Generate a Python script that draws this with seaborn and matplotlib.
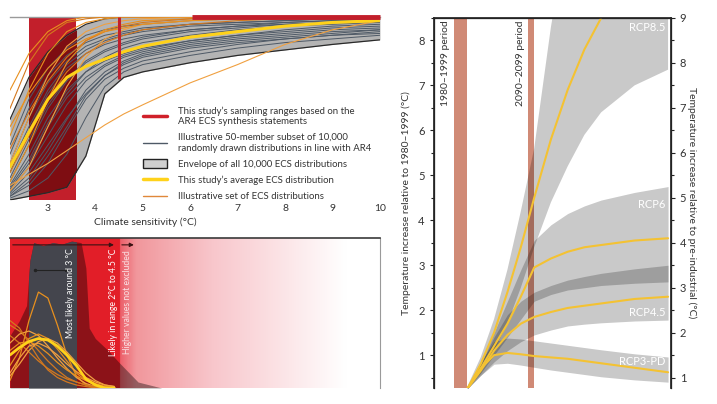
import numpy as np
import matplotlib
matplotlib.use("Agg")
import matplotlib.pyplot as plt
from matplotlib.patches import Rectangle, Patch
from matplotlib.lines import Line2D
from matplotlib.colors import LinearSegmentedColormap
import seaborn as sns

sns.set_theme(style="white")
plt.rcParams["font.family"] = ["Lato", "DejaVu Sans"]

# ---- panel a: cumulative ECS distributions ----
ecs_x = [2.2, 2.6, 3.0, 3.4, 3.8, 4.2, 4.6, 5.0, 6.0, 7.0, 8.0, 9.0, 10.0]
env_hi = [0.44, 0.67, 0.81, 0.90, 0.96, 0.99, 1.0, 1.0, 1.0, 1.0, 1.0, 1.0, 1.0]
env_lo = [0.0, 0.02, 0.04, 0.07, 0.24, 0.58, 0.67, 0.70, 0.75, 0.79, 0.82, 0.85, 0.875]
avg_cdf = [0.18, 0.37, 0.55, 0.67, 0.73, 0.77, 0.81, 0.84, 0.89, 0.92, 0.95, 0.97, 0.98]
gray_cdfs = [
    [0.02, 0.08, 0.20, 0.38, 0.55, 0.66, 0.72, 0.76, 0.81, 0.85, 0.88, 0.90, 0.92],
    [0.05, 0.18, 0.35, 0.52, 0.65, 0.73, 0.78, 0.81, 0.86, 0.89, 0.91, 0.93, 0.94],
    [0.10, 0.30, 0.50, 0.65, 0.75, 0.81, 0.85, 0.88, 0.92, 0.94, 0.96, 0.97, 0.98],
    [0.20, 0.45, 0.64, 0.76, 0.84, 0.88, 0.91, 0.93, 0.96, 0.97, 0.98, 0.99, 0.99],
    [0.30, 0.55, 0.72, 0.83, 0.90, 0.93, 0.95, 0.96, 0.98, 0.99, 0.99, 1.0, 1.0],
    [0.04, 0.15, 0.30, 0.45, 0.58, 0.68, 0.74, 0.78, 0.83, 0.86, 0.88, 0.90, 0.91],
    [0.08, 0.25, 0.45, 0.60, 0.70, 0.76, 0.80, 0.83, 0.87, 0.90, 0.92, 0.94, 0.95],
    [0.15, 0.38, 0.58, 0.72, 0.80, 0.85, 0.88, 0.90, 0.93, 0.95, 0.96, 0.97, 0.98],
    [0.01, 0.05, 0.12, 0.25, 0.45, 0.62, 0.70, 0.74, 0.79, 0.83, 0.86, 0.88, 0.90],
    [0.25, 0.50, 0.68, 0.79, 0.86, 0.90, 0.92, 0.94, 0.96, 0.97, 0.98, 0.99, 0.99],
    [0.12, 0.33, 0.52, 0.66, 0.76, 0.82, 0.86, 0.89, 0.93, 0.95, 0.97, 0.98, 0.99],
    [0.06, 0.20, 0.40, 0.56, 0.67, 0.74, 0.79, 0.82, 0.87, 0.90, 0.93, 0.95, 0.96],
    [0.03, 0.12, 0.27, 0.44, 0.60, 0.70, 0.76, 0.80, 0.85, 0.88, 0.90, 0.92, 0.93],
    [0.18, 0.40, 0.60, 0.74, 0.82, 0.87, 0.90, 0.92, 0.95, 0.96, 0.97, 0.98, 0.99],
    [0.07, 0.22, 0.42, 0.58, 0.70, 0.78, 0.83, 0.86, 0.90, 0.93, 0.95, 0.96, 0.97],
    [0.02, 0.10, 0.24, 0.40, 0.57, 0.68, 0.75, 0.79, 0.84, 0.87, 0.89, 0.91, 0.93],
]
orange_cdfs = [
    [0.35, 0.60, 0.80, 0.92, 0.97, 0.99, 1.0, 1.0, 1.0, 1.0, 1.0, 1.0, 1.0],
    [0.50, 0.75, 0.90, 0.97, 0.99, 1.0, 1.0, 1.0, 1.0, 1.0, 1.0, 1.0, 1.0],
    [0.20, 0.45, 0.68, 0.84, 0.92, 0.96, 0.98, 0.99, 1.0, 1.0, 1.0, 1.0, 1.0],
    [0.10, 0.30, 0.55, 0.75, 0.87, 0.93, 0.96, 0.98, 0.99, 1.0, 1.0, 1.0, 1.0],
    [0.28, 0.48, 0.65, 0.78, 0.87, 0.92, 0.95, 0.97, 0.99, 1.0, 1.0, 1.0, 1.0],
    [0.05, 0.18, 0.40, 0.62, 0.78, 0.88, 0.93, 0.96, 0.98, 0.99, 1.0, 1.0, 1.0],
    [0.40, 0.58, 0.72, 0.82, 0.88, 0.92, 0.94, 0.96, 0.98, 0.99, 0.99, 1.0, 1.0],
    [0.15, 0.35, 0.55, 0.70, 0.80, 0.86, 0.90, 0.93, 0.96, 0.98, 0.99, 0.99, 1.0],
    [0.08, 0.14, 0.20, 0.27, 0.34, 0.41, 0.47, 0.52, 0.64, 0.74, 0.85, 0.93, 0.98],
    [0.60, 0.80, 0.92, 0.98, 1.0, 1.0, 1.0, 1.0, 1.0, 1.0, 1.0, 1.0, 1.0],
]
ecs_ticks = [3, 4, 5, 6, 7, 8, 9, 10]
legend_labels = [
    "This study\u2019s sampling ranges based on the\nAR4 ECS synthesis statements",
    "Illustrative 50-member subset of 10,000\nrandomly drawn distributions in line with AR4",
    "Envelope of all 10,000 ECS distributions",
    "This study\u2019s average ECS distribution",
    "Illustrative set of ECS distributions",
]

# ---- panel b: probability densities ----
pdf_x = [2.2, 2.4, 2.6, 2.8, 3.0, 3.2, 3.4, 3.6, 3.8, 4.0, 4.2, 4.4]
orange_pdfs = [
    [0.05, 0.20, 0.45, 0.64, 0.60, 0.42, 0.22, 0.08, 0.02, 0.0, 0.0, 0.0],
    [0.42, 0.38, 0.32, 0.25, 0.18, 0.12, 0.07, 0.04, 0.02, 0.01, 0.0, 0.0],
    [0.30, 0.36, 0.38, 0.35, 0.28, 0.20, 0.13, 0.07, 0.03, 0.01, 0.0, 0.0],
    [0.15, 0.25, 0.33, 0.36, 0.33, 0.26, 0.18, 0.10, 0.05, 0.02, 0.01, 0.0],
    [0.35, 0.30, 0.24, 0.18, 0.13, 0.09, 0.06, 0.04, 0.02, 0.01, 0.0, 0.0],
    [0.08, 0.16, 0.25, 0.31, 0.33, 0.30, 0.24, 0.17, 0.10, 0.05, 0.02, 0.01],
    [0.25, 0.30, 0.31, 0.28, 0.23, 0.17, 0.12, 0.08, 0.05, 0.03, 0.01, 0.0],
    [0.45, 0.40, 0.30, 0.20, 0.12, 0.07, 0.04, 0.02, 0.01, 0.0, 0.0, 0.0],
    [0.10, 0.20, 0.28, 0.30, 0.27, 0.22, 0.16, 0.11, 0.07, 0.04, 0.02, 0.01],
]
avg_pdf = [0.22, 0.27, 0.31, 0.33, 0.32, 0.28, 0.22, 0.15, 0.06, 0.02, 0.0, 0.0]
pdf_env_x = [2.2, 2.4, 2.55, 2.62, 2.7, 2.9, 3.1, 3.3, 3.5, 3.7, 3.8, 3.87, 4.0, 4.27, 4.5, 4.9, 5.4]
pdf_env_y = [0.35, 0.45, 0.55, 0.85, 0.97, 0.95, 0.97, 0.96, 0.98, 0.97, 0.8, 0.4, 0.33, 0.25, 0.17, 0.04, 0.0]

# ---- panel c: temperature projections ----
years = [2000, 2020, 2040, 2060, 2080, 2100, 2125, 2150, 2175, 2200, 2250, 2300]
rcp85_mid = [0.25, 0.8, 1.5, 2.4, 3.4, 4.5, 5.8, 6.9, 7.8, 8.5, 9.6, 10.2]
rcp85_lo = [0.25, 0.6, 1.1, 1.7, 2.5, 3.4, 4.4, 5.2, 5.9, 6.4, 7.0, 7.35]
rcp85_hi = [0.3, 0.95, 1.8, 2.9, 4.2, 5.6, 8.3, 10.5, 12.0, 12.0, 12.0, 12.0]
rcp6_mid = [0.25, 0.7, 1.2, 1.7, 2.3, 2.95, 3.15, 3.3, 3.4, 3.45, 3.55, 3.6]
rcp6_lo = [0.25, 0.6, 1.0, 1.4, 1.8, 2.2, 2.35, 2.45, 2.5, 2.55, 2.6, 2.63]
rcp6_hi = [0.3, 0.85, 1.5, 2.2, 2.9, 3.55, 3.9, 4.15, 4.32, 4.45, 4.62, 4.75]
rcp45_mid = [0.25, 0.65, 1.1, 1.45, 1.7, 1.85, 1.96, 2.05, 2.1, 2.15, 2.25, 2.3]
rcp45_lo = [0.25, 0.55, 0.85, 1.1, 1.3, 1.45, 1.56, 1.65, 1.69, 1.72, 1.76, 1.78]
rcp45_hi = [0.3, 0.8, 1.4, 1.9, 2.2, 2.4, 2.55, 2.67, 2.75, 2.82, 2.92, 3.0]
rcp3_mid = [0.25, 0.7, 1.0, 1.05, 1.02, 0.98, 0.95, 0.92, 0.87, 0.82, 0.72, 0.62]
rcp3_lo = [0.25, 0.55, 0.8, 0.82, 0.78, 0.73, 0.67, 0.62, 0.57, 0.52, 0.45, 0.4]
rcp3_hi = [0.3, 0.85, 1.3, 1.38, 1.36, 1.32, 1.27, 1.22, 1.17, 1.12, 1.03, 0.96]
rcp_names = ["RCP8.5", "RCP6", "RCP4.5", "RCP3-PD"]
rcp_label_y = [8.28, 4.34, 1.94, 0.85]
periods = [(1980, 2000, "1980\u20131999 period"), (2090, 2100, "2090\u20132099 period")]

RED = "#c21f2b"
DARKRED = "#7e0d12"
GRAYLINE = "#4e5966"
ORANGE = ["#e8901e", "#d4781e", "#f0a040"]
YELLOW = "#ffd21a"
TXT = "#333333"

fig = plt.figure(figsize=(7.17, 4.04), dpi=100)
axA = fig.add_axes([0.0139, 0.505, 0.516, 0.453])
axB = fig.add_axes([0.0139, 0.0396, 0.516, 0.371])
axC = fig.add_axes([0.605, 0.0396, 0.3305, 0.916])

# ================= panel a =================
rect = Rectangle((2.6, 0), 1.0, 1.0, color=RED, lw=0, zorder=1)
axA.add_patch(rect)
axA.fill_between(ecs_x, env_lo, env_hi, color="#b4b4b4", lw=0, zorder=2)
dark = axA.fill_between(ecs_x, env_lo, env_hi, color=DARKRED, lw=0, zorder=2.1)
dark.set_clip_path(rect)
axA.plot(ecs_x, env_hi, color="#2a2a2a", lw=0.9, zorder=2.2)
axA.plot(ecs_x, env_lo, color="#2a2a2a", lw=0.9, zorder=2.2)
for c in gray_cdfs:
    sns.lineplot(x=ecs_x, y=c, ax=axA, color=GRAYLINE, lw=0.7, zorder=3)
for i, c in enumerate(orange_cdfs):
    sns.lineplot(x=ecs_x, y=c, ax=axA, color=ORANGE[i % 3], lw=0.8, zorder=4)
sns.lineplot(x=ecs_x, y=avg_cdf, ax=axA, color=YELLOW, lw=2.2, zorder=5)
axA.plot([4.5, 4.5], [0.66, 1.0], color=RED, lw=2.2, zorder=6, solid_capstyle="butt")
axA.plot([6.04, 10.0], [1.0, 1.0], color=RED, lw=3.5, zorder=6, clip_on=False,
         solid_capstyle="butt")
axA.set_xlim(2.2, 10)
axA.set_ylim(0, 1.0)
axA.set_xticks(ecs_ticks)
axA.set_yticks([])
axA.tick_params(axis="x", length=0, labelsize=7.5, labelcolor=TXT, pad=3)
for s in ["left", "right", "bottom"]:
    axA.spines[s].set_visible(False)
axA.spines["top"].set_color("#9a9a9a")
axA.spines["top"].set_linewidth(1.0)
axA.set_xlabel("Climate sensitivity (\u00b0C)", fontsize=7.5, color=TXT, x=0.365, labelpad=3)
handles = [
    Line2D([], [], color="#d0202a", lw=2.5),
    Line2D([], [], color=GRAYLINE, lw=1.0),
    Patch(facecolor="#cfcfcf", edgecolor="#222222", lw=1.0),
    Line2D([], [], color=YELLOW, lw=2.5),
    Line2D([], [], color="#e0883a", lw=1.0),
]
axA.legend(handles, legend_labels, loc="lower left", bbox_to_anchor=(0.335, -0.055),
           frameon=False, fontsize=6.9, handlelength=2.6, handleheight=1.0,
           labelspacing=0.7, handletextpad=1.1, labelcolor=TXT)

# ================= panel b =================
stops = [(0.0, (0.89, 0.12, 0.16)), (0.295, (0.89, 0.12, 0.16)),
         (0.296, (0.925, 0.37, 0.41)), (0.34, (0.945, 0.59, 0.61)),
         (0.551, (0.973, 0.78, 0.80)), (0.91, (1.0, 1.0, 1.0)), (1.0, (1.0, 1.0, 1.0))]
cmap = LinearSegmentedColormap.from_list("bg", stops)
grad = np.linspace(0, 1, 800)[np.newaxis, :]
axB.imshow(grad, extent=[2.2, 10, 0, 1], aspect="auto", cmap=cmap, origin="lower", zorder=0)
axB.fill_between(pdf_env_x, 0, pdf_env_y, color="black", alpha=0.38, lw=0, zorder=1)
col = Rectangle((2.6, 0), 1.0, 1.0, color="none", lw=0)
axB.add_patch(col)
colfill = axB.fill_between(pdf_env_x, 0, pdf_env_y, color="#44454d", lw=0, zorder=1.5)
colfill.set_clip_path(col)
for i, p in enumerate(orange_pdfs):
    sns.lineplot(x=pdf_x, y=p, ax=axB, color=ORANGE[i % 3], lw=0.9, zorder=3)
sns.lineplot(x=pdf_x, y=avg_pdf, ax=axB, color=YELLOW, lw=2.0, zorder=4)
axB.annotate("", xy=(4.45, 0.955), xytext=(2.2, 0.955),
             arrowprops=dict(arrowstyle="-|>", color="#3a1212", lw=0.8, mutation_scale=6), zorder=5)
axB.annotate("", xy=(4.87, 0.955), xytext=(4.5, 0.955),
             arrowprops=dict(arrowstyle="-|>", color="#3a1212", lw=0.8, mutation_scale=6), zorder=5)
axB.plot([2.72, 3.38], [0.79, 0.79], color="#222222", lw=0.8, marker="o", ms=1.5, zorder=5)
axB.text(3.47, 0.93, "Most likely around 3 \u00b0C", rotation=90, va="top", ha="center",
         fontsize=6.2, color="white", zorder=6)
axB.text(4.38, 0.93, "Likely in range 2\u00b0C to 4.5 \u00b0C", rotation=90, va="top", ha="center",
         fontsize=6.2, color="white", zorder=6)
axB.text(4.68, 0.92, "Higher values not excluded", rotation=90, va="top", ha="center",
         fontsize=6.2, color="#fbe0e3", zorder=6)
axB.set_xlim(2.2, 10)
axB.set_ylim(0, 1)
axB.set_xticks([])
axB.set_yticks([])
for s in ["left", "bottom"]:
    axB.spines[s].set_visible(False)
axB.spines["top"].set_color("#3a3a3a")
axB.spines["top"].set_linewidth(1.2)
axB.spines["right"].set_color("#9a9a9a")
axB.spines["right"].set_linewidth(0.8)

# ================= panel c =================
for a, b, lab in periods:
    axC.axvspan(a, b, color="#d08a76", lw=0, zorder=1)
axC.text(1967, 8.45, periods[0][2], rotation=90, va="top", ha="center", fontsize=7.5, color=TXT)
axC.text(2079, 8.45, periods[1][2], rotation=90, va="top", ha="center", fontsize=7.5, color=TXT)
bands = [(rcp85_lo, rcp85_hi, rcp85_mid), (rcp6_lo, rcp6_hi, rcp6_mid),
         (rcp45_lo, rcp45_hi, rcp45_mid), (rcp3_lo, rcp3_hi, rcp3_mid)]
for lo, hi, mid in bands:
    axC.fill_between(years, lo, hi, color="black", alpha=0.21, lw=0, zorder=2)
for lo, hi, mid in bands:
    sns.lineplot(x=years, y=mid, ax=axC, color="#f4c232", lw=1.5, zorder=3)
for name, yy in zip(rcp_names, rcp_label_y):
    axC.text(2296, yy, name, ha="right", va="center", fontsize=8, color="white", zorder=4)
axC.set_xlim(1950, 2304)
axC.set_ylim(0.27, 8.5)
axC.set_xticks([])
axC.set_yticks(range(1, 9))
axC.set_yticks(np.arange(0.5, 8.6, 1.0), minor=True)
axC.tick_params(axis="y", which="both", direction="out", left=True, length=3, width=0.8,
                labelsize=8, labelcolor=TXT, color="#222222")
axC.tick_params(axis="y", which="minor", length=2)
axC.set_ylabel("Temperature increase relative to 1980\u20131999 (\u00b0C)", fontsize=7.5, color=TXT,
               labelpad=5)
axC.spines["bottom"].set_visible(False)
for s in ["left", "right", "top"]:
    axC.spines[s].set_color("#111111")
    axC.spines[s].set_linewidth(0.9)

axC2 = axC.twinx()
axC2.set_ylim(0.77, 9.0)
axC2.set_yticks(range(1, 10))
axC2.set_yticks(np.arange(1.5, 9.0, 1.0), minor=True)
axC2.tick_params(axis="y", which="both", direction="out", right=True, length=3, width=0.8,
                 labelsize=8, labelcolor=TXT, color="#222222")
axC2.tick_params(axis="y", which="minor", length=2)
axC2.set_ylabel("Temperature increase relative to pre-industrial (\u00b0C)", rotation=270,
                fontsize=7.5, color=TXT, labelpad=7)
axC2.spines["bottom"].set_visible(False)
axC2.grid(False)

fig.savefig("out.png", dpi=100)
